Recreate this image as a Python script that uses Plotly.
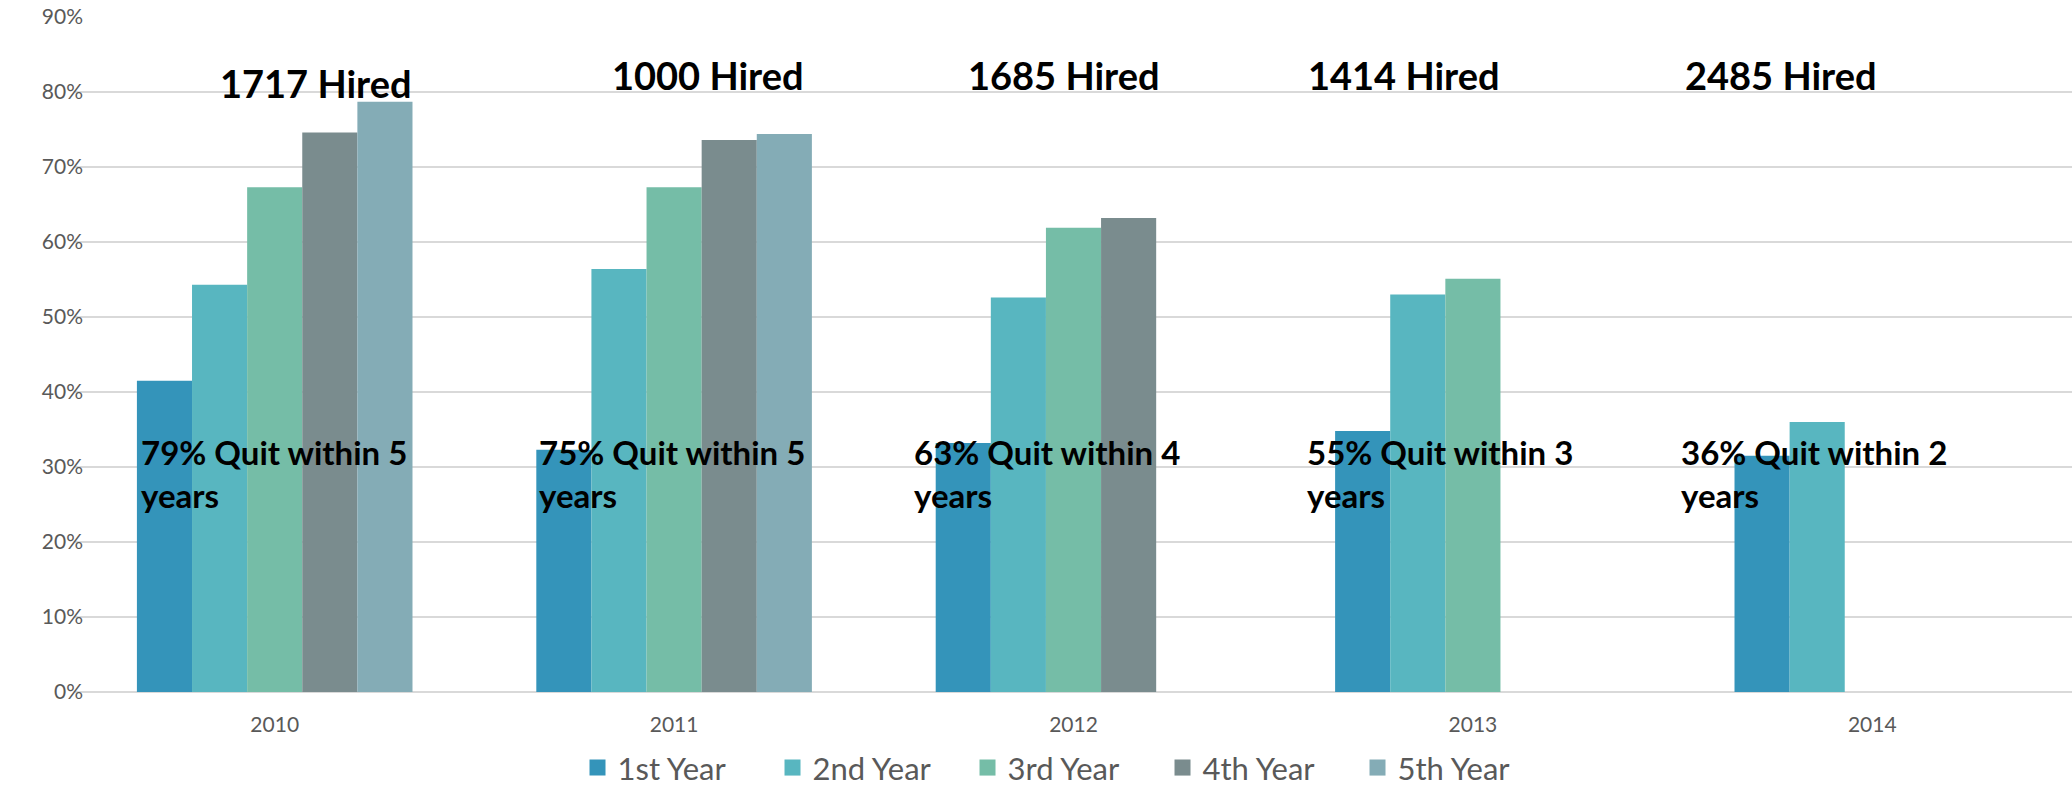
import plotly.graph_objects as go

years = ['2010', '2011', '2012', '2013', '2014']
series_names = ['1st Year', '2nd Year', '3rd Year', '4th Year', '5th Year']
first_year = [0.415, 0.323, 0.332, 0.348, 0.315]
second_year = [0.543, 0.564, 0.526, 0.530, 0.360]
third_year = [0.673, 0.673, 0.619, 0.551, None]
fourth_year = [0.746, 0.736, 0.632, None, None]
fifth_year = [0.787, 0.744, None, None, None]
hired = [1717, 1000, 1685, 1414, 2485]
quit_pct = [79, 75, 63, 55, 36]
quit_within = [5, 5, 4, 3, 2]

colors = ['#3494BA', '#58B6C0', '#75BDA7', '#7A8C8E', '#84ACB6']
series = [first_year, second_year, third_year, fourth_year, fifth_year]

fig = go.Figure()
for name, vals, col in zip(series_names, series, colors):
    fig.add_trace(go.Bar(x=years, y=vals, name=name, marker_color=col,
                         marker_line_width=0, showlegend=False))
# legend-only entries with bigger square swatches
for name, col in zip(series_names, colors):
    fig.add_trace(go.Scatter(x=[None], y=[None], name=name, mode='markers',
                             marker=dict(symbol='square', size=18, color=col)))

# annotation anchors (category-axis units / y-axis units)
hired_x = [-0.142, 0.840, 1.731, 2.582, 3.526]
hired_y = [0.846, 0.856, 0.856, 0.856, 0.856]
quit_x = [-0.340, 0.657, 1.596, 2.579, 3.515]
quit_y = 0.349

for i in range(len(years)):
    fig.add_annotation(x=hired_x[i], y=hired_y[i], xref='x', yref='y',
                       text=f'{hired[i]} Hired', showarrow=False,
                       xanchor='left', yanchor='top',
                       font=dict(family='Lato', size=38, color='black', weight='bold'))
    fig.add_annotation(x=quit_x[i], y=quit_y, xref='x', yref='y',
                       text=f'{quit_pct[i]}% Quit within {quit_within[i]}<br>years',
                       showarrow=False, xanchor='left', yanchor='top', align='left',
                       font=dict(family='Lato', size=33, color='black', weight='bold'))

fig.update_layout(
    width=2072, height=786,
    margin=dict(l=75, r=0, t=17, b=94),
    plot_bgcolor='white',
    paper_bgcolor='white',
    font=dict(family='Lato', color='#595959'),
    barmode='group',
    bargap=0.31,
    bargroupgap=0,
    legend=dict(orientation='h', xref='container', yref='container',
                x=0.514, xanchor='center', y=0.023, yanchor='middle',
                entrywidth=150, itemwidth=30,
                font=dict(family='Lato', size=31, color='#595959'), traceorder='normal'),
    yaxis=dict(range=[0, 0.9], dtick=0.1, tickformat='.0%',
               showgrid=True, gridcolor='#D9D9D9', gridwidth=2,
               zeroline=True, zerolinecolor='#D9D9D9', zerolinewidth=2,
               ticks='', ticklabelstandoff=-9,
               tickfont=dict(family='Lato', size=21, color='#595959')),
    xaxis=dict(showgrid=False, showline=False,
               ticks='outside', ticklen=14, tickcolor='rgba(0,0,0,0)',
               tickfont=dict(family='Lato', size=21, color='#595959')),
)

# drop the default page margin so the figure fills the window exactly
fig.write_html('out.html', config={'displayModeBar': False},
               post_script="document.body.style.margin='0';document.body.style.overflow='hidden';")
